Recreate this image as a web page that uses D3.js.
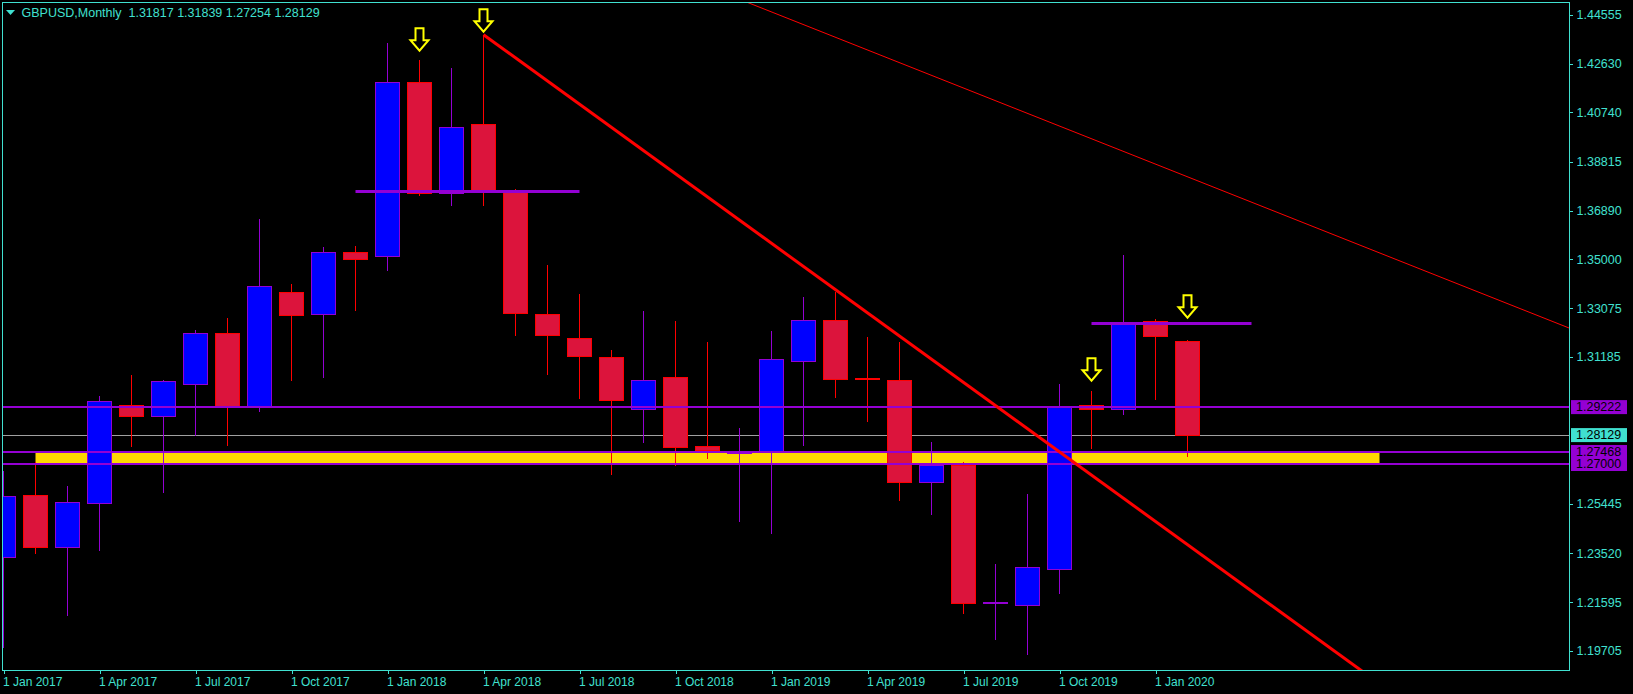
<!DOCTYPE html>
<html><head><meta charset="utf-8">
<script src="https://cdn.jsdelivr.net/npm/d3@7"></script>
<style>
html,body{margin:0;padding:0;background:#000;overflow:hidden}
text{font-family:"Liberation Sans",Arial,sans-serif}
</style>
</head><body>
<svg id="chart" width="1633" height="694"></svg>
<script>
// ---------- data ----------
const months = ["2017-01","2017-02","2017-03","2017-04","2017-05","2017-06","2017-07","2017-08","2017-09","2017-10","2017-11","2017-12",
"2018-01","2018-02","2018-03","2018-04","2018-05","2018-06","2018-07","2018-08","2018-09","2018-10","2018-11","2018-12",
"2019-01","2019-02","2019-03","2019-04","2019-05","2019-06","2019-07","2019-08","2019-09","2019-10","2019-11","2019-12",
"2020-01","2020-02"];
const openP  = [1.2338,1.2579,1.2377,1.2547,1.2929,1.2889,1.3011,1.3211,1.2928,1.3371,1.3285,1.3527,
1.3511,1.4191,1.3757,1.4027,1.3764,1.3285,1.3191,1.3117,1.2914,1.3040,1.2769,1.2742,
1.2748,1.3101,1.3261,1.3037,1.3028,1.2629,1.2696,1.2159,1.2148,1.2289,1.2929,1.2914,
1.3257,1.31817];
const highP  = [1.2673,1.2709,1.2614,1.2966,1.3048,1.3028,1.3223,1.3270,1.3658,1.3403,1.3548,1.3552,
1.4345,1.4278,1.4247,1.4377,1.3774,1.3477,1.3364,1.3145,1.3298,1.3259,1.3177,1.2841,
1.3220,1.3352,1.3373,1.3196,1.3177,1.2786,1.2707,1.2309,1.2583,1.3013,1.2985,1.3516,
1.3266,1.31839];
const lowP   = [1.1982,1.2347,1.2107,1.2361,1.2768,1.2588,1.2811,1.2772,1.2904,1.3025,1.3037,1.3299,
1.3455,1.3745,1.3709,1.3709,1.3200,1.3048,1.2954,1.2657,1.2783,1.2693,1.2720,1.2473,
1.2427,1.2772,1.2959,1.2865,1.2557,1.2501,1.2114,1.2013,1.1954,1.2192,1.2759,1.2893,
1.2950,1.27254];
const closeP = [1.2574,1.2377,1.2550,1.2945,1.2889,1.3023,1.3211,1.2928,1.3394,1.3281,1.3527,1.3502,
1.4191,1.3757,1.4015,1.3770,1.3291,1.3205,1.3123,1.2951,1.3027,1.2768,1.2755,1.2748,
1.3109,1.3261,1.3031,1.3034,1.2629,1.2696,1.2158,1.2162,1.2297,1.2924,1.2916,1.3250,
1.3201,1.28129];

const yTickValues = [1.44555,1.42630,1.40740,1.38815,1.36890,1.35000,1.33075,1.31185,1.25445,1.23520,1.21595,1.19705];
const xTickMonths = ["2017-01","2017-04","2017-07","2017-10","2018-01","2018-04","2018-07","2018-10","2019-01","2019-04","2019-07","2019-10","2020-01"];
const xTickLabels = ["1 Jan 2017","1 Apr 2017","1 Jul 2017","1 Oct 2017","1 Jan 2018","1 Apr 2018","1 Jul 2018","1 Oct 2018","1 Jan 2019","1 Apr 2019","1 Jul 2019","1 Oct 2019","1 Jan 2020"];

const titleText = "GBPUSD,Monthly  1.31817 1.31839 1.27254 1.28129";
const levelPrices = [1.29222, 1.27468, 1.27000];
const bidPrice = 1.28129;
const zonePrices = [1.27468, 1.27000];
const zoneMonths = ["2017-02", "2020-08"];
const segMonths = [["2017-12","2018-07"], ["2019-11","2020-04"]];
const segPrices = [1.37652, 1.32496];
const arrowMonths = ["2018-02","2018-04","2019-11","2020-02"];
const arrowPrices = [1.43145, 1.43887, 1.30254, 1.32715];
const mainTrendMonths = ["2018-04","2020-04"];
const mainTrendPrices = [1.4377, 1.22039];
const thinTrendMonths = ["2018-09","2021-01"];
const thinTrendPrices = [1.4664, 1.3277];

// ---------- layout ----------
const W = 1633, H = 694;
const L = 2, R = 1569, T = 2.5, B = 670;
const C = {
  bg:"#000", fg:"#40E0D0", bullFill:"#0000FF", bullLine:"#9400D3",
  bearFill:"#DC143C", bearLine:"#FF0000", level:"#9400D3", zone:"#FFD700",
  bid:"#A0A0A0", trend:"#FF0000", arrow:"#FFFF00"
};
const mIdx = s => { const [y,m] = s.split("-").map(Number); return (y-2017)*12 + (m-1); };

const x = d3.scaleLinear().domain([(L-3.5)/32, (R-3.5)/32]).range([L, R]);
const y = d3.scaleLinear().domain([1.27 - (B-464)/2560, 1.27 + (464-T)/2560]).range([B, T]);

const svg = d3.select("#chart");
svg.append("rect").attr("width", W).attr("height", H).attr("fill", C.bg);
svg.append("defs").append("clipPath").attr("id","plot")
  .append("rect").attr("x", L).attr("y", T).attr("width", R-L).attr("height", B-T);

const plot = svg.append("g").attr("clip-path","url(#plot)");

// zone rectangle (background)
plot.append("rect")
  .attr("x", x(mIdx(zoneMonths[0]))).attr("width", x(mIdx(zoneMonths[1])) - x(mIdx(zoneMonths[0])))
  .attr("y", Math.round(y(zonePrices[0]))).attr("height", Math.round(y(zonePrices[1])) - Math.round(y(zonePrices[0])))
  .attr("fill", C.zone);

// bid line
plot.append("line").attr("x1", L).attr("x2", R)
  .attr("y1", Math.round(y(bidPrice))+0.5).attr("y2", Math.round(y(bidPrice))+0.5)
  .attr("stroke", C.bid).attr("stroke-width", 1);

// candles
const candles = months.map((m,i)=>({i:mIdx(m), o:openP[i], h:highP[i], l:lowP[i], c:closeP[i]}));
const cg = plot.append("g").attr("shape-rendering","crispEdges");
candles.forEach(d=>{
  const bull = d.c >= d.o;
  const cx = x(d.i);
  const line = bull ? C.bullLine : C.bearLine;
  const fill = bull ? C.bullFill : C.bearFill;
  cg.append("line").attr("x1", cx).attr("x2", cx)
    .attr("y1", Math.round(y(d.h))).attr("y2", Math.round(y(d.l)))
    .attr("stroke", line).attr("stroke-width", 1);
  const yt = Math.round(y(Math.max(d.o,d.c))), yb = Math.round(y(Math.min(d.o,d.c)));
  const hgt = Math.max(yb-yt, 1);
  cg.append("rect").attr("x", cx-12).attr("width", 24)
    .attr("y", yt+0.5).attr("height", hgt)
    .attr("fill", fill).attr("stroke", line).attr("stroke-width", 1);
});

// horizontal levels
levelPrices.forEach(p=>{
  const yy = Math.round(y(p));
  plot.append("line").attr("x1", L).attr("x2", R).attr("y1", yy).attr("y2", yy)
    .attr("stroke", C.level).attr("stroke-width", 2);
});
// short segments
segMonths.forEach((s,k)=>{
  const yy = Math.round(y(segPrices[k])) + 0.5;
  plot.append("line").attr("x1", x(mIdx(s[0]))).attr("x2", x(mIdx(s[1])))
    .attr("y1", yy).attr("y2", yy)
    .attr("stroke", C.level).attr("stroke-width", 3);
});

// trend lines (rays clipped to the plot)
function ray(ms, ps, width){
  const i0 = mIdx(ms[0]), i1 = mIdx(ms[1]);
  const slope = (ps[1]-ps[0])/(i1-i0);
  const iEnd = x.domain()[1];
  plot.append("line")
    .attr("x1", x(i0)).attr("y1", y(ps[0]))
    .attr("x2", x(iEnd)).attr("y2", y(ps[0] + slope*(iEnd-i0)))
    .attr("stroke", C.trend).attr("stroke-width", width);
}
ray(mainTrendMonths, mainTrendPrices, 3);
ray(thinTrendMonths, thinTrendPrices, 1);

// arrows
const arrowPath = "M-4,-22.5 L4,-22.5 L4,-10.5 L9,-10.5 L0,0 L-9,-10.5 L-4,-10.5 Z";
arrowMonths.forEach((m,k)=>{
  plot.append("path").attr("d", arrowPath)
    .attr("transform", `translate(${x(mIdx(m))},${y(arrowPrices[k])})`)
    .attr("fill", "none").attr("stroke", C.arrow).attr("stroke-width", 2)
    .attr("stroke-linejoin","miter");
});

// frame
svg.append("rect").attr("x", L+0.5).attr("y", T).attr("width", R-L).attr("height", B-T+0.5)
  .attr("fill","none").attr("stroke", C.fg).attr("stroke-width", 1).attr("shape-rendering","crispEdges");

// y axis
const yAxis = svg.append("g").attr("transform", `translate(${R+0.5},0)`)
  .call(d3.axisRight(y).tickValues(yTickValues).tickFormat(d3.format(".5f")).tickSize(3).tickSizeOuter(0).tickPadding(4));
yAxis.select(".domain").remove();
yAxis.selectAll("line").attr("stroke", C.fg).attr("shape-rendering","crispEdges");
yAxis.selectAll("text").attr("fill", C.fg).style("font-size","12.5px").style("font-family","Liberation Sans, Arial, sans-serif");

// x axis
const xAxis = svg.append("g").attr("transform", `translate(0,${B+0.5})`)
  .call(d3.axisBottom(x).tickValues(xTickMonths.map(mIdx)).tickFormat((d,k)=>xTickLabels[k]).tickSize(3).tickSizeOuter(0).tickPadding(4));
xAxis.select(".domain").remove();
xAxis.selectAll("line").attr("stroke", C.fg).attr("shape-rendering","crispEdges");
xAxis.selectAll("text").attr("fill", C.fg).attr("text-anchor","start").attr("dx", -1)
  .style("font-size","12px").style("font-family","Liberation Sans, Arial, sans-serif");

// price labels on right
function priceBox(p, bg){
  const yy = y(p);
  svg.append("rect").attr("x", R+2).attr("y", yy-7).attr("width", 56).attr("height", 14).attr("fill", bg);
  svg.append("text").attr("x", R+7).attr("y", yy).attr("dy","0.35em")
    .attr("fill","#000").style("font-size","12.5px").text(d3.format(".5f")(p));
}
priceBox(levelPrices[0], C.level);
priceBox(bidPrice, C.fg);
priceBox(levelPrices[1], C.level);
priceBox(levelPrices[2], C.level);

// title
svg.append("path").attr("d","M6,10 L15,10 L10.5,15 Z").attr("fill", C.fg);
svg.append("text").attr("x", 21.5).attr("y", 17).attr("fill", C.fg)
  .style("font-size","12.5px").style("white-space","pre").attr("xml:space","preserve").text(titleText);
</script>
</body></html>
